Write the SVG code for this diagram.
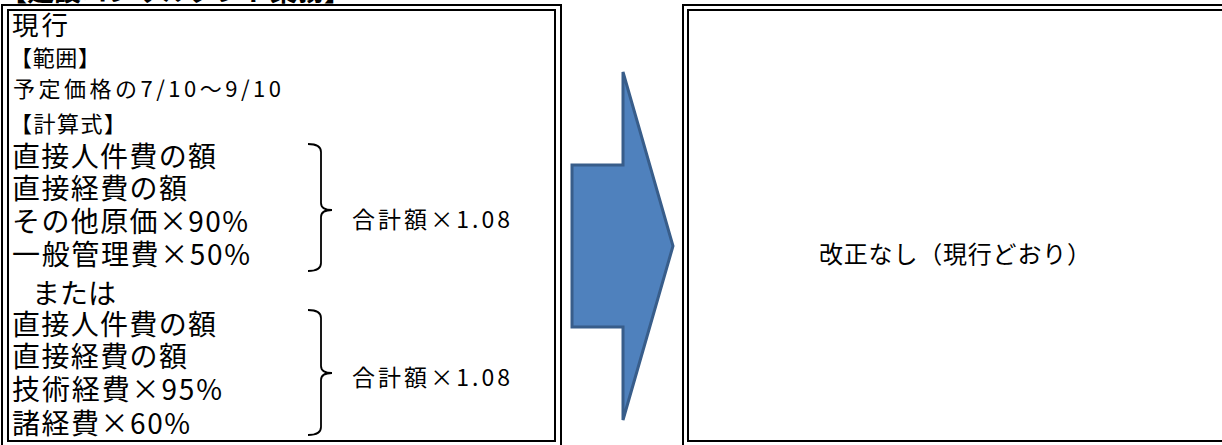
<svg xmlns="http://www.w3.org/2000/svg" width="1222" height="445" viewBox="0 0 1222 445">
<style>
.t{font-family:"Noto Sans CJK JP","Noto Sans CJK SC",sans-serif;fill:#000}
.b{font-size:28px}
.s{font-size:22px}
.c{font-size:23px}
.frame{fill:none;stroke:#000;stroke-width:2}
.brace{fill:none;stroke:#000;stroke-width:1.8}
.arrow{fill:#4F81BD;stroke:#385D8A;stroke-width:3}
</style>
<rect width="1222" height="445" fill="#fff"/>
<g id="title">
<text class="t" x="0" y="1" font-size="27" font-weight="bold" textLength="351">【建設コンサルタント業務】</text>
</g>
<g id="current">
<rect class="frame" x="2" y="5" width="559" height="450"/>
<rect class="frame" x="8" y="10" width="547" height="431"/>
<text class="t" x="12" y="35" font-size="26.5" textLength="56">現行</text>
<text class="t s" x="10" y="66" textLength="90">【範囲】</text>
<text class="t s" x="13" y="97" textLength="268">予定価格の7/10〜9/10</text>
<text class="t s" x="10" y="132" textLength="116">【計算式】</text>
<text class="t b" x="12" y="167" textLength="204">直接人件費の額</text>
<text class="t b" x="12" y="199" textLength="175">直接経費の額</text>
<text class="t b" x="12" y="232" textLength="236">その他原価×90%</text>
<text class="t b" x="12" y="265" textLength="238">一般管理費×50%</text>
<text class="t b" x="32" y="304">または</text>
<text class="t b" x="12" y="335" textLength="204">直接人件費の額</text>
<text class="t b" x="12" y="367" textLength="175">直接経費の額</text>
<text class="t b" x="12" y="400" textLength="210">技術経費×95%</text>
<text class="t b" x="12" y="434" textLength="178">諸経費×60%</text>
<path class="brace" d="M308,144 Q321,144 321,152 L321,203 Q321,210 332,210 Q321,210 321,217 L321,263 Q321,271 308,271"/>
<path class="brace" d="M308,310 Q321,310 321,318 L321,366 Q321,373 332,373 Q321,373 321,380 L321,427 Q321,435 308,435"/>
<text class="t c" x="352" y="228" textLength="158">合計額×1.08</text>
<text class="t c" x="352" y="386" textLength="158">合計額×1.08</text>
</g>
<g id="connectors">
<polygon class="arrow" points="572,165 623,165 623,72 673,246 623,420 623,327 572,327"/>
</g>
<g id="revised">
<rect class="frame" x="683" y="5" width="600" height="450"/>
<rect class="frame" x="688" y="10" width="600" height="431"/>
<text class="t" x="819" y="263" font-size="24" textLength="272">改正なし（現行どおり）</text>
</g>
</svg>
